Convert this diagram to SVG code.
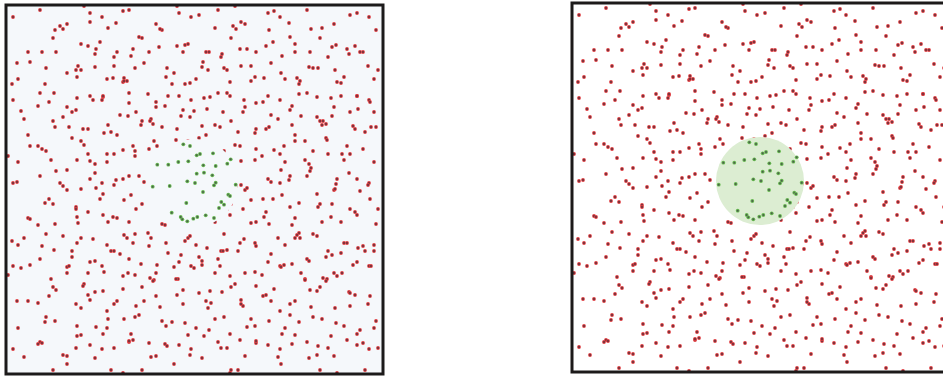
<svg xmlns="http://www.w3.org/2000/svg" width="943" height="377" viewBox="0 0 943 377">
<style>
.frame{fill:none;stroke:#1c1a1a;stroke-width:3}
</style>
<defs>
<g id="r"><circle r="1.9" fill="#dc3a3e"/><circle r="1" fill="#62303a"/></g>
<g id="g"><circle r="1.9" fill="#66b850"/><circle r="1" fill="#4d5e4d"/></g>
<pattern id="p1" patternUnits="userSpaceOnUse" width="89" height="83">
<use href="#r" x="7" y="12"/><use href="#r" x="34" y="5"/><use href="#r" x="61" y="19"/><use href="#r" x="82" y="41"/><use href="#r" x="22" y="47"/><use href="#r" x="47" y="33"/><use href="#r" x="71" y="72"/><use href="#r" x="12" y="74"/><use href="#r" x="40" y="63"/><use href="#r" x="84" y="8"/>
</pattern>
<pattern id="p2" patternUnits="userSpaceOnUse" width="107" height="97">
<use href="#r" x="5" y="30"/><use href="#r" x="18" y="8"/><use href="#r" x="44" y="22"/><use href="#r" x="71" y="6"/><use href="#r" x="96" y="27"/><use href="#r" x="30" y="51"/><use href="#r" x="58" y="45"/><use href="#r" x="86" y="60"/><use href="#r" x="12" y="80"/><use href="#r" x="39" y="88"/><use href="#r" x="66" y="75"/><use href="#r" x="99" y="90"/><use href="#r" x="77" y="35"/>
</pattern>
<pattern id="p3" patternUnits="userSpaceOnUse" width="127" height="119">
<use href="#r" x="9" y="57"/><use href="#r" x="24" y="17"/><use href="#r" x="37" y="100"/><use href="#r" x="52" y="38"/><use href="#r" x="63" y="6"/><use href="#r" x="70" y="71"/><use href="#r" x="88" y="24"/><use href="#r" x="95" y="108"/><use href="#r" x="110" y="50"/><use href="#r" x="118" y="86"/><use href="#r" x="15" y="110"/><use href="#r" x="31" y="73"/><use href="#r" x="45" y="60"/><use href="#r" x="79" y="92"/><use href="#r" x="102" y="8"/><use href="#r" x="121" y="20"/><use href="#r" x="58" y="114"/><use href="#r" x="84" y="52"/><use href="#r" x="4" y="35"/>
</pattern>
<pattern id="p4" patternUnits="userSpaceOnUse" width="151" height="139">
<use href="#r" x="6" y="6"/><use href="#r" x="27" y="40"/><use href="#r" x="41" y="12"/><use href="#r" x="60" y="29"/><use href="#r" x="78" y="4"/><use href="#r" x="97" y="47"/><use href="#r" x="113" y="19"/><use href="#r" x="136" y="33"/><use href="#r" x="146" y="70"/><use href="#r" x="122" y="63"/><use href="#r" x="13" y="88"/><use href="#r" x="33" y="67"/><use href="#r" x="50" y="96"/><use href="#r" x="68" y="74"/><use href="#r" x="85" y="112"/><use href="#r" x="104" y="86"/><use href="#r" x="127" y="101"/><use href="#r" x="144" y="127"/><use href="#r" x="9" y="130"/><use href="#r" x="30" y="118"/><use href="#r" x="57" y="133"/><use href="#r" x="76" y="55"/><use href="#r" x="118" y="134"/><use href="#r" x="139" y="5"/><use href="#r" x="91" y="20"/><use href="#r" x="21" y="24"/>
</pattern>
<pattern id="p5" patternUnits="userSpaceOnUse" width="173" height="157">
<use href="#r" x="11" y="19"/><use href="#r" x="14" y="22"/><use href="#r" x="38" y="61"/><use href="#r" x="55" y="9"/><use href="#r" x="72" y="44"/><use href="#r" x="94" y="81"/><use href="#r" x="97" y="84"/><use href="#r" x="117" y="27"/><use href="#r" x="141" y="52"/><use href="#r" x="162" y="14"/><use href="#r" x="20" y="102"/><use href="#r" x="46" y="139"/><use href="#r" x="64" y="117"/><use href="#r" x="88" y="148"/><use href="#r" x="112" y="121"/><use href="#r" x="134" y="97"/><use href="#r" x="158" y="133"/><use href="#r" x="161" y="136"/><use href="#r" x="150" y="78"/><use href="#r" x="29" y="151"/>
</pattern>
<mask id="hole" maskUnits="userSpaceOnUse" x="0" y="0" width="377" height="369">
<rect width="377" height="369" fill="#fff"/>
<circle cx="188" cy="178" r="44" fill="#000"/>
</mask>
<clipPath id="box"><rect width="377" height="369"/></clipPath>
<g id="field" clip-path="url(#box)">
<g mask="url(#hole)">
<rect width="377" height="369" fill="url(#p1)"/>
<rect width="377" height="369" fill="url(#p2)" transform="translate(31 17)"/>
<rect width="377" height="369" fill="url(#p3)" transform="translate(-13 41)"/>
<rect width="377" height="369" fill="url(#p4)" transform="translate(57 -23)"/>
<rect width="377" height="369" fill="url(#p5)" transform="translate(-40 -60)"/>
</g>
<g>
<use href="#g" x="177.3" y="139.3"/><use href="#g" x="184" y="141"/><use href="#g" x="190.7" y="150.3"/><use href="#g" x="194" y="149"/><use href="#g" x="207" y="148.3"/><use href="#g" x="151.3" y="159.7"/><use href="#g" x="162.3" y="159.7"/><use href="#g" x="172.3" y="157"/><use href="#g" x="182.3" y="156.3"/><use href="#g" x="197.3" y="160.3"/><use href="#g" x="209.7" y="161"/><use href="#g" x="221.3" y="158.7"/><use href="#g" x="224.7" y="154.3"/><use href="#g" x="190.7" y="168.7"/><use href="#g" x="198" y="167.7"/><use href="#g" x="206.3" y="170.3"/><use href="#g" x="181.3" y="176.3"/><use href="#g" x="189" y="178"/><use href="#g" x="209.7" y="177.7"/><use href="#g" x="208" y="180.3"/><use href="#g" x="163.7" y="181"/><use href="#g" x="146.7" y="181.7"/><use href="#g" x="229.7" y="179.7"/><use href="#g" x="197" y="187"/><use href="#g" x="222.3" y="189.7"/><use href="#g" x="224" y="191"/><use href="#g" x="215.3" y="197"/><use href="#g" x="218" y="199.7"/><use href="#g" x="213" y="203"/><use href="#g" x="180.3" y="198"/><use href="#g" x="165.7" y="207.7"/><use href="#g" x="174.7" y="212"/><use href="#g" x="176.3" y="214.3"/><use href="#g" x="181.3" y="216.3"/><use href="#g" x="187.3" y="213.7"/><use href="#g" x="191.3" y="212"/><use href="#g" x="199.7" y="210.3"/><use href="#g" x="208" y="213"/>
</g>
</g>
</defs>
<rect width="943" height="377" fill="#fff"/>
<g id="left-panel" transform="translate(6 5)">
<rect width="377" height="369" fill="#f5f8fb"/>
<use href="#field"/>
<rect class="frame" width="377" height="369"/>
</g>
<g id="right-panel" transform="translate(572 3)">
<rect width="377" height="369" fill="#fff"/>
<circle cx="188" cy="178" r="44" fill="#dcedd2"/>
<use href="#field"/>
<rect class="frame" width="377" height="369"/>
</g>
</svg>
